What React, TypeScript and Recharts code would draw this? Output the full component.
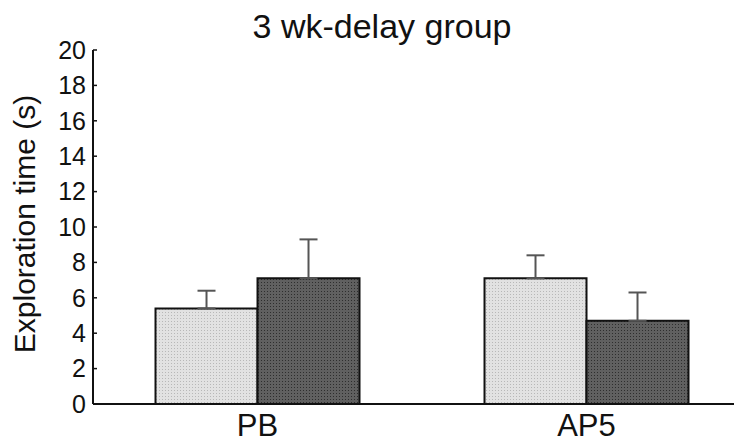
import { BarChart, Bar, XAxis, YAxis, ErrorBar } from "recharts";

// ── Data ────────────────────────────────────────────────────────────────────

const groups = ["PB", "AP5"];
const lightValues = [5.4, 7.1];
const lightErrors = [1.0, 1.3];
const darkValues = [7.1, 4.7];
const darkErrors = [2.2, 1.6];
const yTicks = [0, 2, 4, 6, 8, 10, 12, 14, 16, 18, 20];

const data = groups.map((g, i) => ({
  group: g,
  light: lightValues[i],
  lightErr: [0, lightErrors[i]],
  dark: darkValues[i],
  darkErr: [0, darkErrors[i]],
}));

const FONT = "'Liberation Sans', Arial, sans-serif";

export default function App() {
  return (
    <div
      style={{
        position: "relative",
        marginLeft: -8,
        marginTop: -8,
        width: 742,
        height: 447,
        overflow: "hidden",
        background: "#fff",
        fontFamily: FONT,
        color: "#111",
      }}
    >
      {/* title */}
      <div
        style={{
          position: "absolute",
          top: 9,
          left: 0,
          width: 764,
          textAlign: "center",
          fontSize: 34,
          lineHeight: "34px",
        }}
      >
        3 wk-delay group
      </div>
      {/* y axis title */}
      <div
        style={{
          position: "absolute",
          left: 25,
          top: 224,
          transform: "translate(-50%, -50%) rotate(-90deg)",
          whiteSpace: "nowrap",
          fontSize: 30,
          lineHeight: "30px",
        }}
      >
        Exploration time (s)
      </div>
      <BarChart
        width={752}
        height={447}
        data={data}
        margin={{ top: 50, right: 1, bottom: 0, left: 0 }}
        barCategoryGap="19%"
        barGap={0}
      >
        <defs>
          <pattern id="lightDots" width="3" height="3" patternUnits="userSpaceOnUse">
            <rect width="3" height="3" fill="#e2e2e2" />
            <rect width="1" height="1" fill="#b8b8b8" />
          </pattern>
          <pattern id="darkDots" width="3" height="3" patternUnits="userSpaceOnUse">
            <rect width="3" height="3" fill="#606060" />
            <rect width="1" height="1" fill="#2e2e2e" />
          </pattern>
        </defs>
        <XAxis
          dataKey="group"
          height={43}
          axisLine={{ stroke: "#111", strokeWidth: 2 }}
          tickLine={false}
          tick={{ fontSize: 31, fill: "#111", fontFamily: FONT }}
          tickMargin={4}
        />
        <YAxis
          width={93}
          domain={[0, 20]}
          ticks={yTicks}
          interval={0}
          axisLine={{ stroke: "#111", strokeWidth: 2 }}
          tickLine={{ stroke: "#111", strokeWidth: 1.5 }}
          tickSize={-4}
          tickMargin={11}
          tick={{ fontSize: 25, fill: "#111", fontFamily: FONT }}
        />
        <Bar dataKey="light" fill="url(#lightDots)" stroke="#111" strokeWidth={2} isAnimationActive={false}>
          <ErrorBar dataKey="lightErr" width={9} stroke="#555" strokeWidth={2} direction="y" />
        </Bar>
        <Bar dataKey="dark" fill="url(#darkDots)" stroke="#111" strokeWidth={2} isAnimationActive={false}>
          <ErrorBar dataKey="darkErr" width={9} stroke="#555" strokeWidth={2} direction="y" />
        </Bar>
      </BarChart>
    </div>
  );
}
